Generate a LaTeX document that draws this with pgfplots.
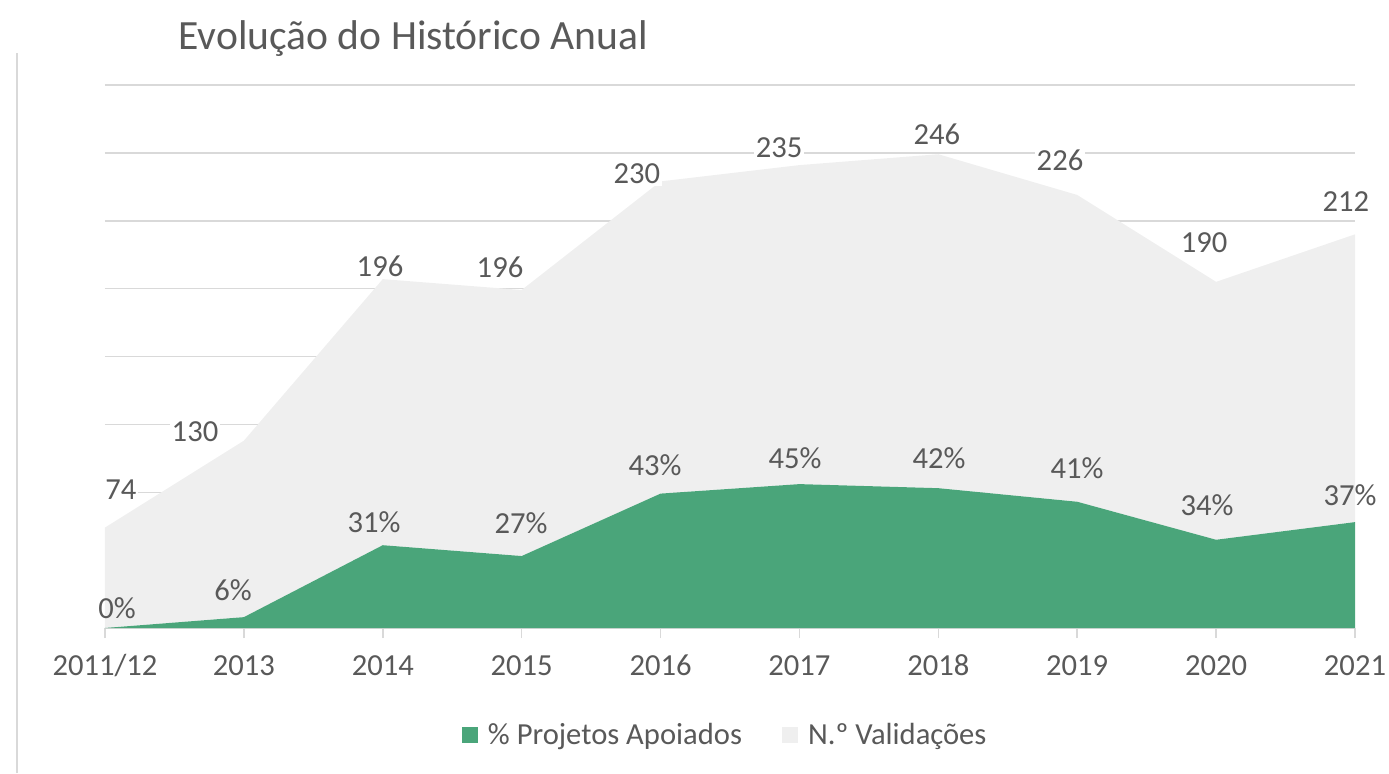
\documentclass[border=0pt]{standalone}
\usepackage{pgfplots}
\pgfplotsset{compat=1.18}
\usepackage{fontspec}
\setmainfont{Carlito}
\definecolor{txt}{HTML}{595959}
\definecolor{verde}{HTML}{4AA57A}
\definecolor{cinza}{HTML}{EFEFEF}
\definecolor{grelha}{HTML}{D9D9D9}
\begin{document}
\begin{tikzpicture}
\path[use as bounding box] (0,0) rectangle (694.5pt,386.5pt);
\draw[grelha, line width=0.75pt] (8.5pt,0pt) -- (8.5pt,360pt);
\node[anchor=base west, inner sep=0, font=\fontsize{20.8}{24}\selectfont, text=txt] at (89pt,361.5pt) {Evolução do Histórico Anual};
\begin{axis}[at={(52.5pt,72.5pt)}, anchor=south west, scale only axis,
  width=625pt, height=271.5pt,
  xmin=0, xmax=9, ymin=0, ymax=400, clip=false,
  stack plots=y,
  xtick={0,...,9},
  xticklabels={2011/12,2013,2014,2015,2016,2017,2018,2019,2020,2021},
  ytick={0,50,...,400}, yticklabels={},
  ymajorgrids, grid style={grelha, line width=0.75pt},
  axis lines*=left,
  y axis line style={draw=none},
  x axis line style={grelha, line width=0.75pt},
  ytick style={draw=none},
  xtick style={grelha, line width=0.75pt},
  tick align=outside, major tick length=5pt,
  xticklabel style={font=\fontsize{15.3}{18}\selectfont, text=txt, yshift=-5pt,
    text height=10pt, text depth=3pt},
  legend style={at={(0.497,-0.197)}, anchor=center, draw=none,
    legend columns=2, font=\fontsize{15.3}{18}\selectfont, text=txt,
    /tikz/every odd column/.append style={column sep=3pt},
    /tikz/every even column/.append style={column sep=18pt}},
  legend image code/.code={\fill[#1] (0pt,-4pt) rectangle (8pt,4pt);},
]
\addplot[fill=verde, draw=none] table {
x y
0 0
1 8
2 61
3 53
4 99
5 106
6 103
7 93
8 65
9 78
} \closedcycle;
\addlegendentry{\% Projetos Apoiados}
\addplot[fill=cinza, draw=none] table {
x y
0 74
1 130
2 196
3 196
4 230
5 235
6 246
7 226
8 190
9 212
} \closedcycle;
\addlegendentry{N.º Validações}
\addplot[stack plots=false, forget plot, draw=none, nodes near coords,
  point meta=explicit symbolic,
  nodes near coords style={anchor=center, font=\fontsize{15.3}{18}\selectfont, text=txt, fill=white, inner sep=1pt}]
  table[meta=lab] {
x y lab
0.115 101.7 74
0.648 144.4 130
1.98 266.7 196
2.844 265.9 196
3.83 334.4 230
4.853 353.6 235
5.99 363.9 246
6.876 344.8 226
7.913 283.6 190
8.935 313.8 212
};
\addplot[stack plots=false, forget plot, draw=none, nodes near coords,
  point meta=explicit symbolic,
  nodes near coords style={anchor=center, font=\fontsize{15.3}{18}\selectfont, text=txt, inner sep=1pt}]
  table[meta=lab] {
x y lab
0.086 14.7 0\%
0.922 28.0 6\%
1.937 78.1 31\%
2.995 77.3 27\%
3.96 120.1 43\%
4.968 125.2 45\%
6.005 125.2 42\%
6.998 117.9 41\%
7.934 90.6 34\%
8.964 98.0 37\%
};
\end{axis}
\end{tikzpicture}
\end{document}
